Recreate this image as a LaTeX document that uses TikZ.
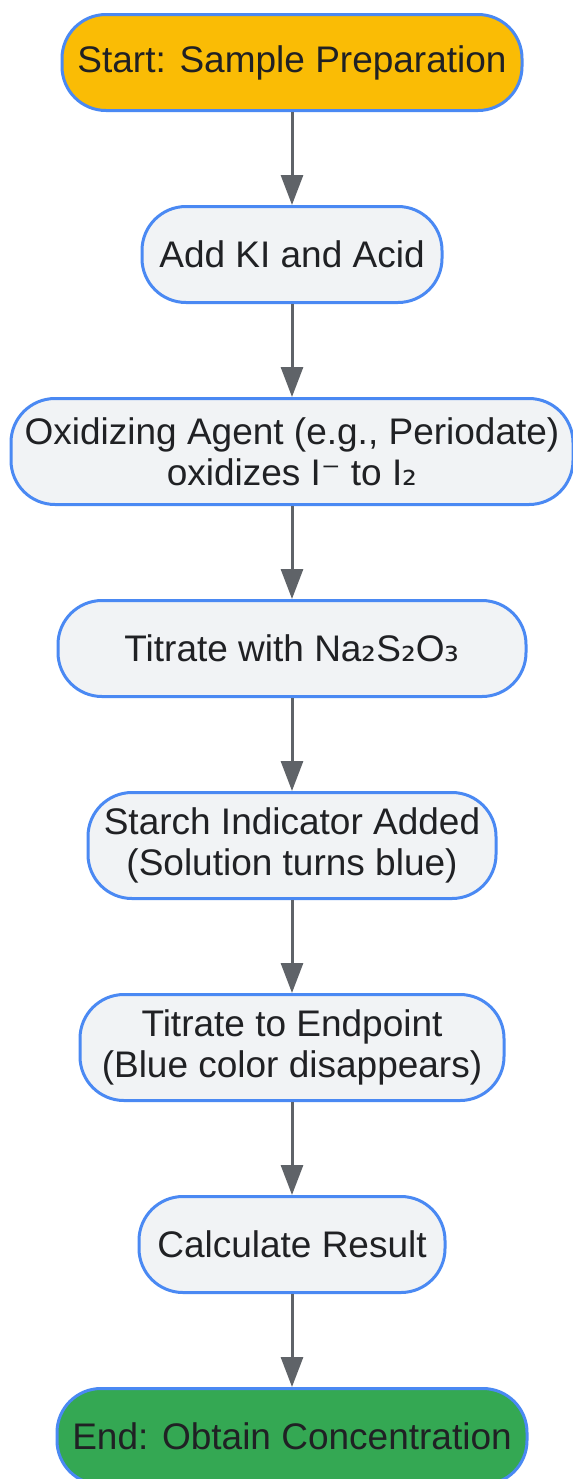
\documentclass[tikz,border=0pt]{standalone}
\usepackage{fontspec}
\setmainfont{Liberation Sans}
\newfontfamily\glyphfont{DejaVu Sans}
\usetikzlibrary{positioning,arrows.meta}
\definecolor{stepfill}{HTML}{F1F3F5}
\definecolor{stepline}{HTML}{4A89F3}
\definecolor{startfill}{HTML}{FABC05}
\definecolor{endfill}{HTML}{34A853}
\definecolor{linkgray}{HTML}{5F6368}
\definecolor{textdark}{HTML}{202124}
\tikzstyle{stepbox} = [draw=stepline, line width=1.5pt, fill=stepfill, rectangle,
	rounded corners=22pt, minimum height=48pt, align=center, inner xsep=0pt,
	text=textdark, font=\fontsize{18.5}{20.5}\selectfont]
\tikzstyle{twoline} = [minimum height=53pt]
\tikzstyle{link} = [->, draw=linkgray, line width=1.5pt]
\newcommand{\gl}[1]{{\glyphfont #1}}

\begin{document}
\begin{tikzpicture}[node distance=46.5pt, >={Triangle[length=15pt,width=11pt]}]
	\useasboundingbox (0,0) rectangle (286.5pt,-739.5pt);
	\node [stepbox, fill=startfill, minimum width=230pt, anchor=north] (start) at (146pt,-6.5pt) {Start: Sample Preparation};
	\node [stepbox, minimum width=150pt, below=of start] (ki) {Add KI and Acid};
	\node [stepbox, twoline, minimum width=281pt, below=of ki] (oxid) {Oxidizing Agent (e.g., Periodate)\\oxidizes I\gl{⁻} to I\gl{₂}};
	\node [stepbox, minimum width=234pt, below=of oxid] (thio) {Titrate with Na\gl{₂}S\gl{₂}O\gl{₃}};
	\node [stepbox, twoline, minimum width=204pt, below=of thio] (starch) {Starch Indicator Added\\(Solution turns blue)};
	\node [stepbox, twoline, minimum width=212pt, below=of starch] (endpt) {Titrate to Endpoint\\(Blue color disappears)};
	\node [stepbox, minimum width=153pt, below=of endpt] (calc) {Calculate Result};
	\node [stepbox, fill=endfill, minimum width=235pt, below=of calc] (finish) {End: Obtain Concentration};

	\foreach \a/\b in {start/ki, ki/oxid, oxid/thio, thio/starch, starch/endpt, endpt/calc, calc/finish}
		\draw[link] (\a) -- (\b);
\end{tikzpicture}
\end{document}
